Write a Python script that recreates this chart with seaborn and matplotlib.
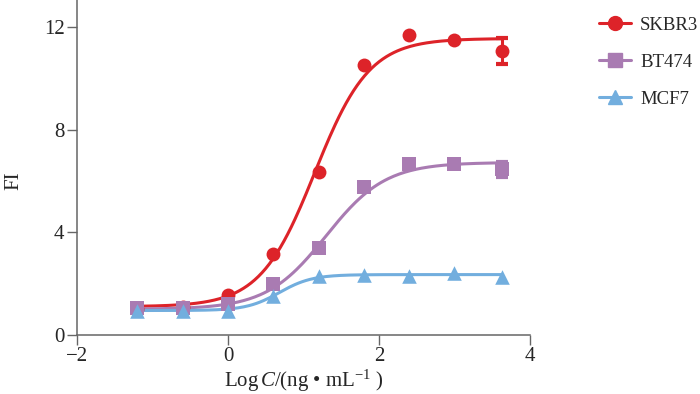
import numpy as np
import matplotlib.pyplot as plt
import seaborn as sns

# measured points (log concentration vs fluorescence intensity)
log_c = [-1.2, -0.6, 0.0, 0.6, 1.2, 1.8, 2.4, 3.0, 3.63]
skbr3 = [1.0, 1.1, 1.55, 3.15, 6.35, 10.5, 11.7, 11.5, 11.05]
bt474 = [1.05, 1.05, 1.2, 2.0, 3.4, 5.75, 6.65, 6.65, 6.45]
mcf7 = [0.95, 0.95, 0.95, 1.5, 2.3, 2.35, 2.3, 2.4, 2.25]
skbr3_err = [0, 0, 0, 0, 0, 0, 0, 0, 0.5]
bt474_err = [0, 0, 0, 0, 0, 0, 0, 0, 0.3]

# four-parameter logistic fit parameters: bottom, top, logEC50, hill
fit_skbr3 = [1.1, 11.55, 1.15, 1.2]
fit_bt474 = [1.0, 6.72, 1.3, 1.1]
fit_mcf7 = [0.95, 2.35, 0.68, 2.0]

names = ["SKBR3", "BT474", "MCF7"]
colors = ["#dd2329", "#a97bb2", "#72aede"]
markers = ["o", "s", "^"]

sns.set_style("ticks")
plt.rcParams["font.family"] = ["Liberation Serif", "DejaVu Serif"]
plt.rcParams["mathtext.fontset"] = "custom"
plt.rcParams["mathtext.it"] = "Liberation Serif:italic"
plt.rcParams["mathtext.rm"] = "Liberation Serif"

fig = plt.figure(figsize=(7, 3.94), dpi=100)
ax = fig.add_axes([0.11, 0.15, 0.647, 0.85])

xs = np.linspace(-1.2, 3.63, 200)
series = [skbr3, bt474, mcf7]
errs = [skbr3_err, bt474_err, None]
fits = [fit_skbr3, fit_bt474, fit_mcf7]

for name, ys, err, fit, col, mk in zip(names, series, errs, fits, colors, markers):
    b, t, ec, h = fit
    curve = b + (t - b) / (1 + 10 ** ((ec - xs) * h))
    sns.lineplot(x=xs, y=curve, color=col, lw=2.2, ax=ax)
    if err is not None:
        ax.errorbar(log_c, ys, yerr=err, fmt="none", ecolor=col, elinewidth=2.2,
                    capsize=4.5, capthick=3)
    ms = 100 if mk != "^" else 110
    sns.scatterplot(x=log_c, y=ys, color=col, marker=mk, s=ms, edgecolor=col,
                    linewidth=0, ax=ax, zorder=3)
    ax.plot([], [], color=col, lw=2.2, marker=mk, ms=10, label=name)

ax.set_xlim(-2, 4)
ax.set_ylim(0, 13.05)
ax.set_xticks([-2, 0, 2, 4])
ax.set_xticklabels(["\u22122", "0", "2", "4"])
ax.set_yticks([0, 4, 8, 12])
ax.tick_params(labelsize=15, color="#666666", length=7, width=1, pad=2)
for s in ["top", "right"]:
    ax.spines[s].set_visible(False)
for s in ["left", "bottom"]:
    ax.spines[s].set_color("#666666")
    ax.spines[s].set_linewidth(1.1)

ax.set_ylabel("FI", fontsize=15)
ax.yaxis.set_label_coords(-0.118, 0.46)
ax.set_xlabel("Log$\\,\\mathit{C}$/(ng \u2022 mL$^{-1}$ )", fontsize=15, labelpad=1)

ax.legend(loc="upper left", bbox_to_anchor=(1.115, 1.0), frameon=False,
          fontsize=13.5, handlelength=1.7, labelspacing=1.05, handletextpad=0.5)

fig.savefig("out.png", dpi=100)
